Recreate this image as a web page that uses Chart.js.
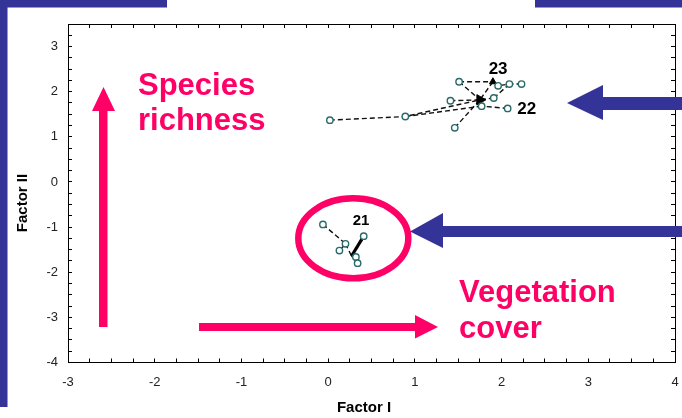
<!DOCTYPE html>
<html><head><meta charset="utf-8">
<script src="https://cdn.jsdelivr.net/npm/chart.js@4.4.1/dist/chart.umd.min.js"></script>
<style>html,body{margin:0;padding:0;background:#fff;}canvas{display:block}</style>
</head><body>
<canvas id="c" width="682" height="418"></canvas>
<script>
// ---- data ----
const xTickValues = [-3, -2, -1, 0, 1, 2, 3, 4];
const yTickValues = [-4, -3, -2, -1, 0, 1, 2, 3];
const xTitle = 'Factor I';
const yTitle = 'Factor II';

const sites21 = [[-0.06, -0.94], [0.13, -1.52], [0.20, -1.37], [0.41, -1.20], [0.32, -1.66], [0.34, -1.80]];
const sites22 = [[0.02, 1.37], [0.89, 1.45], [1.41, 1.80], [1.46, 1.20], [1.77, 1.68], [2.07, 1.63], [1.91, 1.86]];
const sites23 = [[1.51, 2.22], [1.96, 2.13], [2.09, 2.17], [2.23, 2.17]];
const centroid21 = [0.27, -1.64];
const centroid22 = [1.75, 1.82];
const centroid23 = [1.90, 2.22];

const groupNames = ['21', '22', '23'];
const groupLabelX = [0.38, 2.29, 1.96];
const groupLabelY = [-0.87, 1.61, 2.50];

// dashed connections (polylines built from the named points)
const links = [
  [sites22[0], sites22[1], centroid22],
  [sites22[1], sites22[4]],
  [sites22[2], centroid22],
  [sites22[3], centroid22],
  [sites22[6], centroid22],
  [sites22[5], sites22[4], centroid22],
  [sites23[0], centroid23],
  [sites23[0], centroid22],
  [centroid23, centroid22],
  [sites23[3], sites23[2], sites23[1], centroid23],
  [sites23[2], sites22[6]],
  [sites21[0], sites21[2], sites21[1]],
  [sites21[2], centroid21],
  [sites21[4], centroid21],
  [sites21[5], centroid21]
];
const heavyLinks = [
  [sites21[3], centroid21]
];

// ---- chart ----
const toXY = p => ({x: p[0], y: p[1]});
const allSites = [...sites21, ...sites22, ...sites23];

const datasets = [
  {
    label: 'sites', data: allSites.map(toXY), order: 0,
    pointStyle: 'circle', pointRadius: 3.2, pointHoverRadius: 3.2,
    pointBorderColor: '#2a6a6a', pointBackgroundColor: '#ffffff', pointBorderWidth: 1.4
  },
  {
    label: 'centroids', data: [centroid21, centroid22, centroid23].map(toXY), order: 1,
    pointStyle: 'triangle', pointRadius: [0, 6, 4], pointRotation: [0, 90, 0],
    pointBorderColor: '#000', pointBackgroundColor: '#000', pointBorderWidth: 1
  }
];
links.forEach(path => datasets.push({
  label: 'link', data: path.map(toXY), showLine: true, order: 3,
  borderColor: '#111', borderWidth: 1.4, borderDash: [5, 3], pointRadius: 0, fill: false
}));
heavyLinks.forEach(path => datasets.push({
  label: 'link', data: path.map(toXY), showLine: true, order: 2,
  borderColor: '#000', borderWidth: 3.2, pointRadius: 0, fill: false
}));

const isLabelled = (v, list) => list.some(t => Math.abs(t - v) < 1e-9);
const tickFont = {family: '"Liberation Sans", Arial, sans-serif', size: 13};

function fixBox(size) {
  return s => {
    if (s.isHorizontal()) s.height = size; else s.width = size;
    s.paddingLeft = 0; s.paddingRight = 0; s.paddingTop = 0; s.paddingBottom = 0;
  };
}

function axis(pos, min, max, labels, pad, size) {
  return {
    type: 'linear', position: pos, min, max,
    afterFit: fixBox(size),
    ticks: {
      stepSize: 0.25, maxTicksLimit: 100, autoSkip: false, maxRotation: 0, minRotation: 0,
      font: tickFont, color: '#222', padding: pad,
      callback: v => labels && isLabelled(v, labels) ? String(Math.round(v)) : ''
    },
    grid: {drawOnChartArea: false, tickLength: -4, color: '#000', lineWidth: 1},
    border: {display: true, color: '#000', width: 1}
  };
}

const bluePurple = '#343398';
const pink = '#ff0066';

const decor = {
  id: 'decor',
  beforeDraw(chart) {
    const c = chart.ctx;
    c.save();
    c.fillStyle = '#fff';
    c.fillRect(0, 0, chart.width, chart.height);
    c.fillStyle = bluePurple;
    c.fillRect(0, 0, 7.5, 407);
    c.fillRect(0, 0, 167, 7.5);
    c.fillRect(535, 0, 147, 7.5);
    c.restore();
  },
  afterDraw(chart) {
    const c = chart.ctx;
    const xs = chart.scales.x, ys = chart.scales.y;
    c.save();
    // group labels
    c.fillStyle = '#000';
    c.textAlign = 'center';
    c.textBaseline = 'middle';
    groupNames.forEach((n, i) => {
      c.font = 'bold ' + (i === 0 ? 15 : 17) + 'px "Liberation Sans", Arial, sans-serif';
      c.fillText(n, xs.getPixelForValue(groupLabelX[i]), ys.getPixelForValue(groupLabelY[i]));
    });
    // axis titles
    c.font = 'bold 15px "Liberation Sans", Arial, sans-serif';
    c.fillText(xTitle, 364, 408);
    c.save();
    c.translate(22.5, 203);
    c.rotate(-Math.PI / 2);
    c.fillText(yTitle, 0, 0);
    c.restore();

    // pink annotations
    c.fillStyle = pink;
    c.beginPath();
    c.moveTo(99, 327); c.lineTo(99, 111); c.lineTo(92, 111); c.lineTo(103.5, 87);
    c.lineTo(115, 111); c.lineTo(107.5, 111); c.lineTo(107.5, 327); c.closePath();
    c.fill();
    c.beginPath();
    c.moveTo(199, 323); c.lineTo(415, 323); c.lineTo(415, 315); c.lineTo(438, 327);
    c.lineTo(415, 338.5); c.lineTo(415, 331); c.lineTo(199, 331); c.closePath();
    c.fill();
    c.strokeStyle = pink;
    c.lineWidth = 6.5;
    c.beginPath();
    c.ellipse(353.3, 238.3, 55, 40, 0, 0, Math.PI * 2);
    c.stroke();
    c.font = 'bold 31px "Liberation Sans", Arial, sans-serif';
    c.textAlign = 'left';
    c.textBaseline = 'alphabetic';
    c.fillText('Species', 138, 95);
    c.fillText('richness', 138, 130);
    c.fillText('Vegetation', 459, 302);
    c.fillText('cover', 459, 338);

    // blue arrows
    c.fillStyle = bluePurple;
    c.beginPath();
    c.moveTo(682, 97); c.lineTo(603, 97); c.lineTo(603, 85); c.lineTo(567, 103);
    c.lineTo(603, 120); c.lineTo(603, 110); c.lineTo(682, 110); c.closePath();
    c.fill();
    c.beginPath();
    c.moveTo(682, 226); c.lineTo(443, 226); c.lineTo(443, 213); c.lineTo(410, 231.5);
    c.lineTo(443, 248); c.lineTo(443, 237); c.lineTo(682, 237); c.closePath();
    c.fill();
    c.restore();
  }
};

new Chart(document.getElementById('c'), {
  type: 'scatter',
  data: {datasets},
  options: {
    responsive: false, animation: false, devicePixelRatio: 1,
    layout: {autoPadding: false, padding: {left: 0, right: 7, top: 24, bottom: 0}},
    plugins: {legend: {display: false}, tooltip: {enabled: false}},
    scales: {
      x: axis('bottom', -3, 4, xTickValues, 16, 55.5),
      y: axis('left', -4, 3.5, yTickValues, 14, 68),
      x2: axis('top', -3, 4, null, 0, 0),
      y2: axis('right', -4, 3.5, null, 0, 0)
    }
  },
  plugins: [decor]
});
</script>
</body></html>
